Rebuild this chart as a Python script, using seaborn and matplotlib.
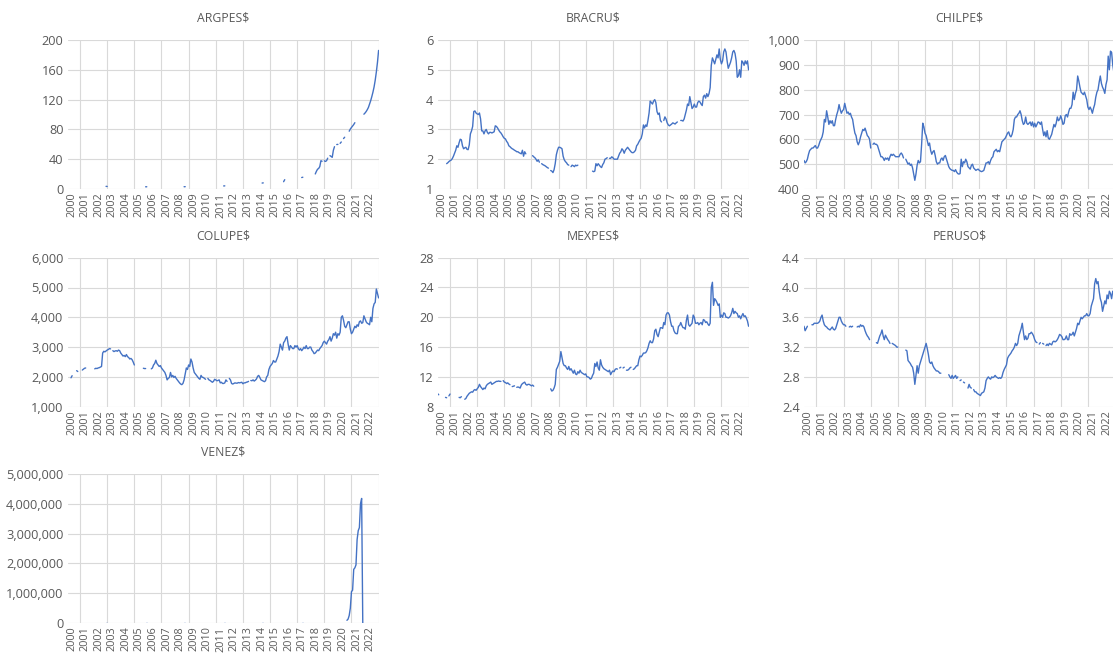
import numpy as np
import pandas as pd
import matplotlib
matplotlib.use('Agg')
import matplotlib.pyplot as plt
from matplotlib.ticker import FuncFormatter
import seaborn as sns

nan = np.nan

# 월별 환율 (2000-01 ~ 2022-12), 빈칸은 nan
years = list(range(2000, 2023))

argpes = [
    nan, nan, nan, nan, nan, nan, nan, nan, nan, nan, nan, nan,
    nan, nan, nan, nan, nan, nan, nan, nan, nan, nan, nan, nan,
    nan, nan, nan, nan, nan, nan, nan, nan, nan, nan, 3.55, 3.4,
    nan, nan, nan, nan, nan, nan, nan, nan, nan, nan, nan, nan,
    nan, nan, nan, nan, nan, nan, nan, nan, nan, nan, nan, nan,
    nan, nan, nan, nan, nan, nan, nan, nan, nan, 2.95, 3.0, nan,
    nan, nan, nan, nan, nan, nan, nan, nan, nan, nan, nan, nan,
    nan, nan, nan, nan, nan, nan, nan, nan, nan, nan, nan, nan,
    nan, nan, nan, nan, nan, nan, nan, 3.05, 3.1, nan, nan, nan,
    nan, nan, nan, nan, nan, nan, nan, nan, nan, nan, nan, nan,
    nan, nan, nan, nan, nan, nan, nan, nan, nan, nan, nan, nan,
    nan, nan, nan, nan, nan, nan, 4.1, 4.2, nan, nan, nan, nan,
    nan, nan, nan, nan, nan, nan, nan, nan, nan, nan, nan, nan,
    nan, nan, nan, nan, nan, nan, nan, nan, nan, nan, nan, nan,
    nan, nan, nan, nan, 8.0, 8.2, nan, nan, nan, nan, nan, nan,
    nan, nan, nan, nan, nan, nan, nan, nan, nan, nan, nan, 9.8,
    12.5, nan, nan, nan, nan, nan, nan, nan, nan, nan, nan, nan,
    nan, nan, nan, 15.4, 15.8, nan, nan, nan, nan, nan, nan, nan,
    nan, nan, nan, 20.2, 23.7, 26.5, 27.6, 30.1, 38.0, 37.2, nan, 37.8,
    37.0, 38.0, 41.4, nan, 44.8, 43.7, 42.5, 51.9, 56.8, nan, 59.7, 59.9,
    nan, 61.3, 63.1, nan, 67.7, 69.5, nan, 73.3, nan, 77.6, 80.4, 82.6,
    84.5, 86.5, 89.0, nan, nan, nan, nan, nan, nan, nan, 100.4, 102.0,
    104, 106.5, 109.5, 114, 118.5, 124, 130, 137, 146, 157, 170, 186,
]

bracru = [
    nan, nan, nan, nan, nan, nan, nan, nan, 1.85, 1.88, 1.92, 1.95,
    1.97, 2.02, 2.1, 2.2, 2.3, 2.45, 2.4, 2.55, 2.67, 2.65, 2.45, 2.35,
    2.38, 2.4, 2.33, 2.32, 2.48, 2.85, 2.95, 3.1, 3.6, 3.62, 3.55, 3.52,
    3.5, 3.55, 3.35, 2.95, 2.95, 2.85, 2.95, 3.0, 2.9, 2.85, 2.9, 2.9,
    2.88, 2.9, 2.92, 3.12, 3.1, 3.05, 2.98, 2.92, 2.88, 2.82, 2.75, 2.7,
    2.68, 2.6, 2.55, 2.45, 2.42, 2.38, 2.35, 2.33, 2.3, 2.28, 2.25, 2.25,
    2.22, 2.2, 2.18, 2.3, 2.1, 2.25, 2.18, nan, nan, nan, nan, nan,
    2.12, 2.08, 2.05, 2.0, 1.93, 1.98, 1.9, nan, 1.85, 1.82, 1.8, 1.78,
    1.75, 1.72, 1.7, nan, 1.62, 1.6, 1.55, 1.65, 1.85, 2.15, 2.3, 2.4,
    2.4, 2.38, 2.35, 2.1, 1.98, 1.92, 1.88, 1.82, 1.8, nan, 1.75, 1.8,
    1.78, 1.75, 1.8, 1.78, 1.8, nan, nan, nan, nan, nan, nan, nan,
    nan, nan, nan, nan, nan, 1.6, 1.58, 1.6, 1.85, 1.78, 1.85, 1.8,
    1.75, 1.72, 1.82, 1.88, 2.0, 2.02, 2.05, nan, 2.03, 2.03, 2.08, 2.05,
    2.0, 2.0, 2.0, 2.0, 2.1, 2.2, 2.25, 2.35, 2.3, 2.2, 2.3, 2.35,
    2.4, 2.35, 2.3, 2.25, 2.22, 2.22, 2.25, 2.3, 2.45, 2.5, 2.58, 2.65,
    2.7, 2.85, 3.15, 3.05, 3.15, 3.1, 3.3, 3.55, 3.95, 3.9, 3.85, 3.95,
    4.0, 3.9, 3.6, 3.5, 3.55, 3.3, 3.25, nan, 3.3, 3.42, 3.35, 3.22,
    3.15, 3.12, 3.15, 3.18, 3.22, 3.2, 3.18, 3.22, 3.25, nan, nan, 3.3,
    3.3, 3.28, 3.35, 3.5, 3.65, 3.85, 3.8, 4.1, 3.9, 3.7, 3.75, 3.85,
    3.75, 3.75, 3.9, 3.95, 3.92, 3.85, 3.8, 4.1, 4.15, 4.05, 4.2, 4.1,
    4.2, 4.4, 5.15, 5.4, 5.3, 5.2, 5.35, 5.5, 5.4, 5.7, 5.35, 5.2,
    5.3, 5.6, 5.7, 5.6, 5.3, 5.05, 5.15, 5.25, 5.4, 5.6, 5.65, 5.55,
    5.3, 4.75, 4.8, 5.0, 4.75, 5.3, 5.25, 5.15, 5.3, 5.2, 5.3, 5.0,
]

chilpe = [
    515, 505, 510, 520, 540, 555, 560, 565, 565, 570, 575, 565,
    565, 575, 590, 600, 610, 630, 680, 670, 715, 690, 660, 675,
    665, 675, 655, 655, 680, 700, 715, 740, 720, 705, 715, 720,
    745, 725, 705, 710, 700, 705, 690, 680, 650, 625, 615, 590,
    578, 590, 610, 625, 640, 635, 645, 630, 615, 610, 600, 565,
    nan, 580, 585, 580, 580, 575, 560, 545, 530, 530, 525, 515,
    525, 520, 525, 515, 530, 540, 535, 540, 535, 530, 530, 530,
    530, 540, 545, 538, 525, nan, 520, 510, 500, 505, 495, 500,
    485, 460, 435, 460, 495, 515, 505, 510, 580, 665, 650, 625,
    615, 595, 575, 585, 555, 540, 550, 555, 535, 510, 500, 505,
    505, 520, 525, 515, 530, 535, 520, 505, 490, 482, 478, 475,
    475, 470, 478, 468, 462, 460, 462, 520, 490, 510, 505, 520,
    510, 490, 485, 480, 495, 500, 485, 480, 475, 478, 480, 475,
    472, 470, 472, 475, 490, 505, 505, 510, 500, 515, 525, 530,
    550, 555, 560, 550, 555, 550, 570, 590, 595, 600, 605, 615,
    625, 630, 615, 610, 620, 640, 680, 690, 690, 700, 705, 715,
    700, 675, 660, 665, 690, 665, 660, 665, 670, 655, 670, 650,
    665, 650, 660, 670, 668, 660, 670, 640, 615, 630, 610, 635,
    605, 600, 610, 620, 640, 660, 650, 665, 690, 675, 680, 695,
    680, 660, 665, 695, 700, 690, 710, 725, 725, 740, 790, 760,
    785, 800, 855, 835, 810, 790, 785, 780, 790, 775, 760, 730,
    720, 730, 720, 705, 725, 740, 770, 790, 800, 830, 855, 825,
    810, 800, 785, 820, 840, 935, 880, 955, 950, 900, 870, 870,
]

colupe = [
    nan, nan, nan, 1970, 2040, nan, nan, nan, 2210, 2180, nan, nan,
    nan, 2230, 2260, 2290, 2300, nan, nan, nan, nan, nan, nan, nan,
    2270, 2290, 2280, 2300, 2310, 2330, 2350, 2800, 2860, 2840, 2870, 2900,
    2920, 2950, 2940, nan, 2880, 2850, 2870, 2880, 2860, 2900, 2880, 2800,
    2750, 2700, 2720, 2680, 2750, 2680, 2650, 2600, 2620, 2580, 2500, 2400,
    nan, nan, nan, nan, nan, nan, nan, 2290, 2280, 2280, nan, nan,
    nan, nan, 2270, 2300, 2400, 2450, 2560, 2450, 2400, 2350, 2380, 2300,
    2250, 2200, 2150, 2050, 1900, 1950, 1980, 2150, 2000, 2050, 1980, 2020,
    1950, 1900, 1850, 1800, 1760, 1740, 1780, 1900, 2100, 2300, 2250, 2400,
    2350, 2600, 2500, 2300, 2150, 2100, 2050, 2000, 1950, 1920, 2050, 1990,
    1980, 1950, 1920, nan, 1950, 1900, 1880, 1850, 1820, 1850, 1920, 1900,
    1870, 1880, 1900, 1800, 1820, 1780, 1780, 1800, 1900, 1850, nan, 1950,
    1900, 1780, 1760, 1780, 1800, 1790, 1790, 1810, 1800, 1810, 1820, 1770,
    1800, 1800, 1820, 1830, 1850, nan, 1880, 1870, 1900, 1860, 1890, 1930,
    2020, 2050, 1980, 1900, 1880, 1860, 1840, 1870, 2000, 2050, 2250, 2350,
    2400, 2450, 2550, 2500, 2500, 2600, 2700, 2850, 3100, 3000, 2900, 3150,
    3200, 3300, 3350, 3100, 2900, 3050, 3000, 2950, 2950, 3050, 3000, 3050,
    2950, 2900, 2950, 2880, 2930, 3000, 2950, 3050, 2950, 2950, 3000, 3000,
    2900, 2850, 2780, 2800, 2850, 2900, 2880, 2950, 3000, 3050, 3150, 3200,
    3150, 3100, 3200, 3250, 3350, 3200, 3300, 3450, 3400, 3500, 3300, 3450,
    3400, 3500, 4000, 4050, 3900, 3700, 3650, 3750, 3850, 3850, 3600, 3450,
    3500, 3600, 3700, 3650, 3750, 3700, 3850, 3880, 3800, 3820, 4050, 3950,
    3850, 3800, 3780, 3750, 4000, 3850, 4300, 4450, 4500, 4950, 4800, 4650,
]

mexpes = [
    9.75, 9.6, nan, nan, nan, nan, nan, 9.25, 9.2, nan, 9.45, 9.7,
    nan, nan, nan, nan, nan, nan, nan, 9.25, 9.2, 9.35, nan, nan,
    9.0, 9.1, 9.4, 9.6, 9.8, 9.9, 10.0, 9.95, 10.2, 10.3, 10.2, 10.4,
    10.6, 11.0, 10.7, 10.5, 10.3, 10.5, 10.4, 10.8, 11.0, 11.1, 11.2, 11.3,
    11.0, 11.1, 11.2, 11.3, 11.4, 11.4, 11.45, 11.4, 11.4, nan, 11.5, 11.3,
    11.25, 11.1, 11.2, 11.05, 10.95, nan, 10.7, 10.75, 10.8, nan, 10.6, 10.65,
    10.6, 10.5, 10.9, 11.1, 11.2, 11.3, 11.0, 10.9, 11.0, 11.0, 10.9, 10.8,
    10.9, 10.75, nan, nan, nan, nan, nan, nan, nan, nan, nan, nan,
    nan, nan, nan, nan, 10.4, 10.1, 10.2, 10.5, 11.0, 13.0, 13.3, 13.7,
    14.1, 15.4, 14.6, 13.8, 13.5, 13.5, 13.2, 13.0, 13.4, 12.9, 13.1, 12.8,
    12.5, 12.9, 12.4, 12.3, 12.7, 12.5, 12.9, 12.6, 12.5, 12.4, 12.3, 12.4,
    12.0, 12.0, 11.9, 11.7, 11.8, 12.2, 12.5, 13.8, 13.4, 14.0, 13.2, 12.9,
    14.3, 13.6, 13.3, 13.1, 13.0, 12.9, 12.8, 12.7, 12.9, 12.3, 12.6, 12.8,
    12.7, 13.0, 13.1, 13.05, nan, 13.2, 13.3, nan, 13.2, 13.3, nan, 12.9,
    12.9, 13.0, 13.2, 13.3, nan, 13.0, 13.1, 13.3, 13.5, 13.5, 14.3, 14.8,
    14.7, 14.9, 15.2, 15.2, 15.25, 15.5, 15.9, 16.5, 16.85, 16.6, 16.6, 17.1,
    18.2, 18.4, 17.7, 17.4, 18.0, 18.6, 18.6, 18.5, 19.3, 19.0, 20.3, 20.6,
    20.6, 20.3, 19.4, 18.8, 18.8, 18.2, 17.9, 17.8, 17.8, 18.8, 18.9, 19.3,
    18.9, 18.6, 18.6, 18.4, 19.6, 20.3, 19.0, 18.8, 19.0, 19.2, 20.3, 20.0,
    19.2, 19.2, 19.3, 19.0, 19.2, 19.3, 19.0, 19.7, 19.6, 19.3, 19.4, 19.1,
    18.9, 19.2, 24.0, 24.7, 21.6, 22.5, 22.3, 22.0, 21.6, 21.8, 20.0, 20.3,
    20.0, 20.6, 20.5, 20.0, 20.0, 19.9, 20.0, 20.2, 20.6, 21.2, 20.5, 20.8,
    20.6, 20.5, 20.0, 20.2, 19.8, 20.2, 20.5, 20.1, 20.2, 19.9, 19.5, 18.8,
]

peruso = [
    3.48, 3.42, 3.45, 3.48, nan, nan, nan, 3.5, 3.5, 3.52, 3.52, 3.52,
    3.52, 3.53, 3.55, 3.6, 3.63, 3.55, 3.5, 3.48, 3.47, 3.45, 3.44, 3.43,
    3.45, 3.47, 3.44, 3.43, 3.45, 3.5, 3.55, 3.6, 3.6, 3.55, 3.52, 3.5,
    3.5, 3.48, nan, nan, 3.47, 3.48, 3.47, 3.48, nan, nan, nan, 3.47,
    3.48, 3.47, 3.5, 3.48, 3.49, 3.47, 3.42, 3.38, 3.35, 3.33, 3.3, nan,
    nan, nan, nan, nan, 3.26, 3.25, 3.3, 3.35, 3.38, 3.43, 3.35, 3.3,
    3.36, 3.33, 3.3, 3.28, 3.25, nan, 3.25, 3.24, 3.23, 3.22, 3.2, 3.2,
    nan, nan, nan, nan, nan, nan, 3.16, 3.15, 3.02, 3.0, 2.98, 2.95,
    2.93, 2.85, 2.7, 2.82, 2.95, 2.85, 2.95, 3.0, 3.05, 3.1, 3.15, 3.2,
    3.25, 3.18, 3.1, 3.0, 2.98, 3.0, 2.95, 2.92, 2.9, 2.88, 2.88, 2.87,
    2.85, 2.85, nan, nan, nan, nan, nan, nan, 2.83, 2.8, 2.78, 2.82,
    2.78, 2.8, 2.82, 2.78, 2.8, nan, 2.75, 2.76, nan, 2.73, 2.72, nan,
    nan, 2.65, 2.7, 2.66, 2.65, nan, 2.63, 2.6, 2.6, 2.58, 2.57, 2.56,
    2.55, 2.58, 2.59, 2.6, 2.65, 2.75, 2.78, 2.8, 2.78, 2.77, 2.8, 2.79,
    2.8, 2.82, 2.8, 2.79, 2.78, 2.79, 2.78, 2.8, 2.86, 2.9, 2.93, 2.96,
    3.05, 3.08, 3.1, 3.12, 3.15, 3.17, 3.2, 3.25, 3.22, 3.25, 3.35, 3.4,
    3.45, 3.52, 3.4, 3.3, 3.35, 3.3, 3.32, 3.38, 3.38, 3.4, 3.38, 3.35,
    3.3, 3.27, 3.26, nan, 3.24, 3.26, nan, 3.25, 3.24, nan, 3.22, 3.24,
    3.22, 3.25, 3.24, 3.23, 3.27, 3.28, 3.27, 3.28, 3.3, 3.33, 3.37, 3.36,
    3.34, 3.3, 3.3, 3.31, 3.35, 3.3, 3.3, 3.38, 3.36, 3.37, 3.4, 3.35,
    3.4, 3.45, 3.52, 3.5, 3.55, 3.6, 3.58, 3.6, 3.62, 3.62, 3.65, 3.62,
    3.62, 3.65, 3.75, 3.8, 3.85, 4.05, 4.12, 4.05, 4.08, 3.95, 3.85, 3.8,
    3.68, 3.75, 3.82, 3.78, 3.9, 3.85, 3.95, 3.92, 3.85, 3.95, 3.9, 3.85,
]

venez = [
    nan, nan, nan, nan, nan, nan, nan, nan, nan, nan, nan, nan,
    nan, nan, nan, nan, nan, nan, nan, nan, nan, nan, nan, nan,
    nan, nan, nan, nan, nan, nan, nan, nan, nan, nan, 1.35, 1.4,
    nan, nan, nan, nan, nan, nan, nan, nan, nan, nan, nan, nan,
    nan, nan, nan, nan, nan, nan, nan, nan, nan, nan, nan, nan,
    nan, nan, nan, nan, nan, nan, nan, nan, nan, 2.15, 2.15, nan,
    nan, nan, nan, nan, nan, nan, nan, nan, nan, nan, nan, nan,
    nan, nan, nan, nan, nan, nan, nan, nan, nan, nan, nan, nan,
    nan, nan, nan, nan, nan, nan, nan, 2.15, 2.15, nan, nan, nan,
    nan, nan, nan, nan, nan, nan, nan, nan, nan, nan, nan, nan,
    nan, nan, nan, nan, nan, nan, nan, nan, nan, nan, nan, nan,
    nan, nan, nan, nan, nan, nan, 4.3, 4.3, nan, nan, nan, nan,
    nan, nan, nan, nan, nan, nan, nan, nan, nan, nan, nan, nan,
    nan, nan, nan, nan, nan, nan, nan, nan, nan, nan, nan, nan,
    nan, nan, nan, nan, 6.3, 6.3, nan, nan, nan, nan, nan, nan,
    nan, nan, nan, nan, nan, nan, nan, nan, nan, nan, nan, nan,
    nan, nan, nan, nan, nan, nan, nan, nan, nan, nan, nan, nan,
    nan, nan, nan, 10, 10, nan, nan, nan, nan, nan, nan, nan,
    nan, nan, nan, nan, nan, nan, nan, nan, nan, nan, nan, nan,
    nan, nan, nan, nan, nan, nan, nan, nan, nan, nan, nan, nan,
    nan, nan, nan, nan, nan, nan, nan, 90000, 130000, 250000, 500000, 1050000,
    1100000, 1800000, 1850000, 1950000, 2800000, 3100000, 3200000, 4000000, 4180000, 4.5, nan, nan,
    nan, nan, nan, nan, nan, nan, nan, nan, nan, nan, nan, nan,
]

names = ['ARGPES$', 'BRACRU$', 'CHILPE$', 'COLUPE$', 'MEXPES$', 'PERUSO$', 'VENEZ$']
values = [argpes, bracru, chilpe, colupe, mexpes, peruso, venez]
y_ticks = [
    np.arange(0, 201, 40),
    np.arange(1, 7, 1),
    np.arange(400, 1001, 100),
    np.arange(1000, 6001, 1000),
    np.arange(8, 29, 4),
    np.arange(2.4, 4.41, 0.4),
    np.arange(0, 5000001, 1000000),
]
y_fmt = ['{:,.0f}', '{:,.0f}', '{:,.0f}', '{:,.0f}', '{:,.0f}', '{:.1f}', '{:,.0f}']

sns.set_style('white')
plt.rcParams['font.family'] = ['Open Sans', 'DejaVu Sans']

grey = '#595959'
blue = '#4472C4'
W, H = 1113, 653
lefts = [67.6, 437.6, 804.0]
tops = [40, 257.7, 474]
pw, ph = 311, 149

fig = plt.figure(figsize=(W / 100, H / 100), dpi=100)

for n, name in enumerate(names):
    r, c = divmod(n, 3)
    ax = fig.add_axes([lefts[c] / W, 1 - (tops[r] + ph) / H, pw / W, ph / H])

    df = pd.DataFrame({'month': np.arange(len(values[n])), 'value': values[n]})
    df['seg'] = df['value'].isna().cumsum()  # 빈칸에서 선을 끊기
    df = df.dropna()
    sns.lineplot(data=df, x='month', y='value', units='seg', estimator=None,
                 color=blue, linewidth=1.0, ax=ax)

    ax.set_xlim(0, 275)
    yt = y_ticks[n]
    ax.set_ylim(yt[0], yt[-1])
    ax.set_yticks(yt)
    fmt = y_fmt[n]
    ax.yaxis.set_major_formatter(FuncFormatter(lambda v, p, f=fmt: f.format(v)))

    ax.set_xticks([12 * k + 3.5 for k in range(len(years))])
    ax.set_xticklabels([str(y) for y in years], rotation=90)
    ax.set_xticks(np.arange(11, 276, 24), minor=True)

    ax.grid(axis='y', which='major', color='#D9D9D9', linewidth=0.8)
    ax.grid(axis='x', which='minor', color='#D9D9D9', linewidth=0.8)
    ax.grid(axis='x', which='major', visible=False)
    ax.set_axisbelow(True)
    sns.despine(ax=ax, left=True, bottom=True)

    ax.tick_params(axis='both', which='both', length=0, colors=grey)
    ax.tick_params(axis='y', labelsize=9.2, pad=3)
    ax.tick_params(axis='x', labelsize=7.8, pad=2.5)
    ax.set_xlabel('')
    ax.set_ylabel('')
    ax.set_title(name.replace('$', r'\$'), fontsize=8.8, color=grey, pad=13)

fig.savefig('out.png', dpi=100)
